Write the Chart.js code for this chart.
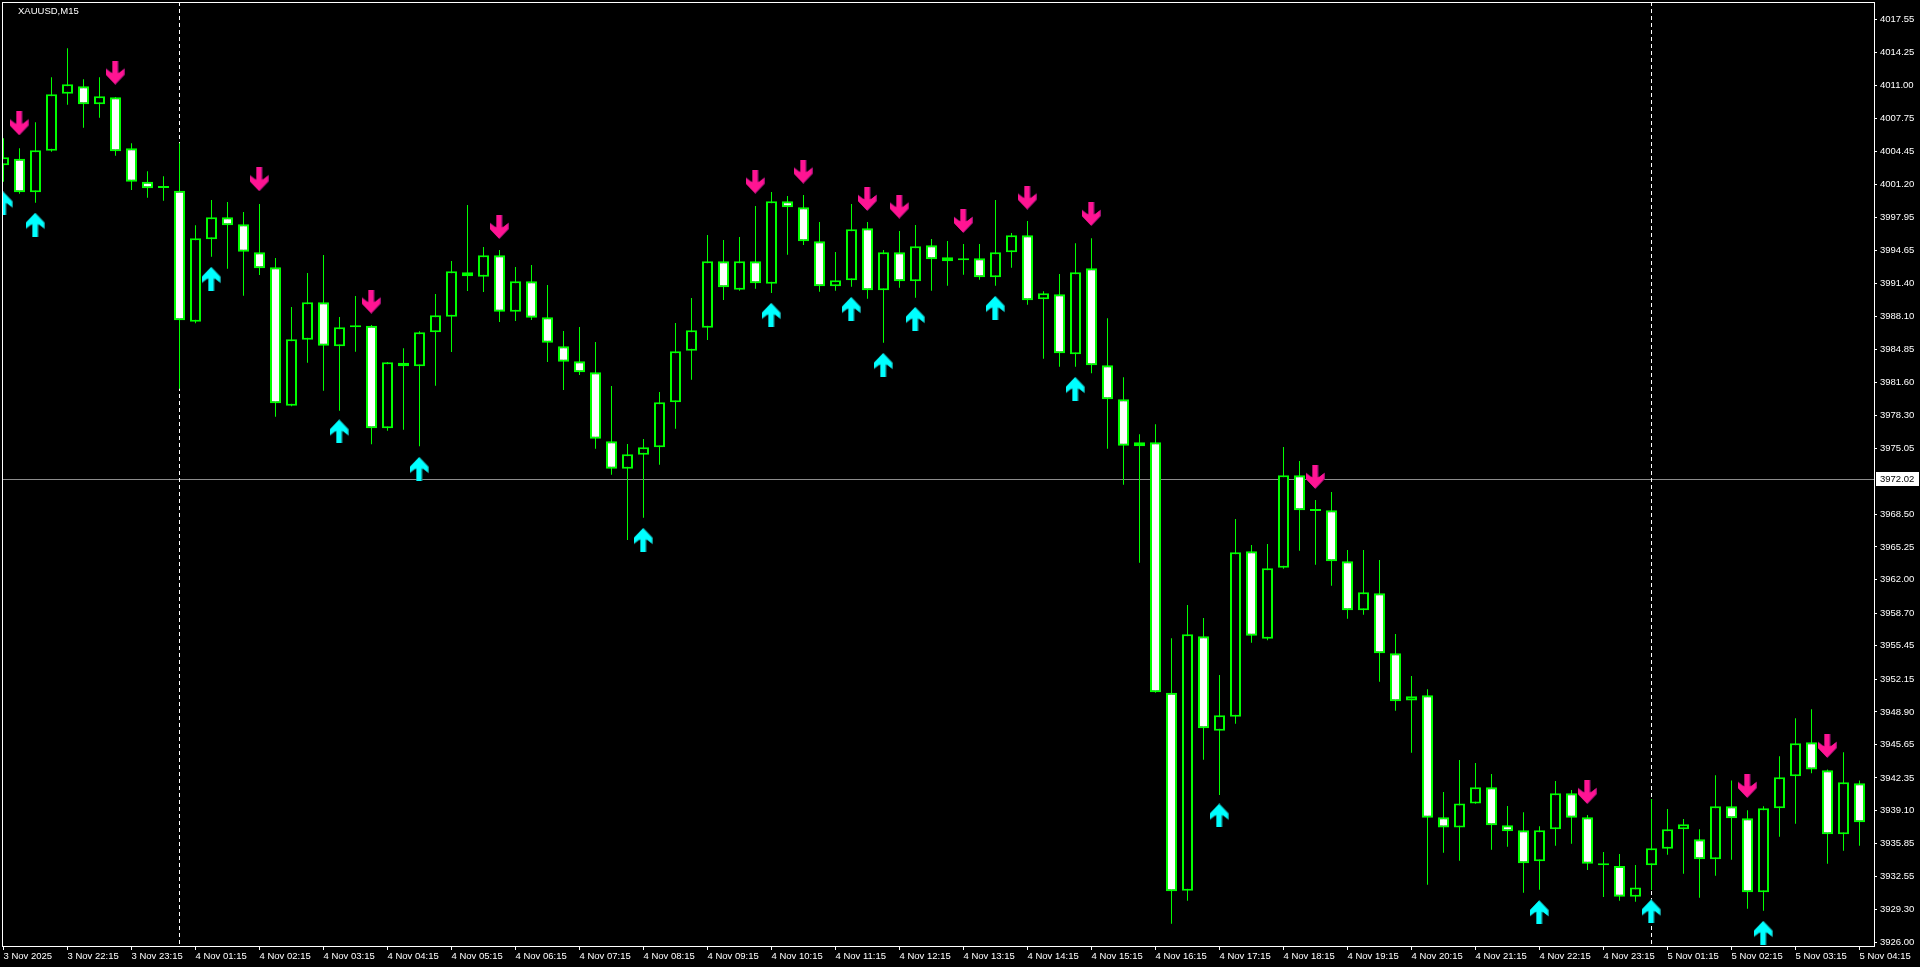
<!DOCTYPE html>
<html>
<head>
<meta charset="utf-8">
<title>XAUUSD,M15</title>
<script src="https://cdn.jsdelivr.net/npm/chart.js@4.4.1/dist/chart.umd.min.js"></script>
<style>
  html, body { margin: 0; padding: 0; background: #000; overflow: hidden; }
  canvas { display: block; }
</style>
</head>
<body>
<canvas id="myChart" width="1920" height="967"></canvas>
<script>
// Data Block (XAUUSD M15, bar 0 = 3 Nov 21:15)
const opens = [
  4003.09, 4003.75, 4000.41, 4004.54, 4010.19, 4010.92, 4009.14, 4009.83, 4004.78, 4001.47,
  4000.84, 4000.57, 3987.58, 3995.75, 3997.93, 3997.24, 3994.46, 3992.98, 3979.26, 3985.80,
  3989.51, 3985.14, 3987.23, 3987.19, 3977.01, 3983.52, 3983.16, 3986.53, 3988.08, 3992.48,
  3992.05, 3994.17, 3988.58, 3991.59, 3988.02, 3985.14, 3983.66, 3982.57, 3975.73, 3973.01,
  3974.39, 3975.13, 3979.59, 3984.71, 3986.99, 3993.57, 3990.76, 3993.57, 3991.35, 3999.52,
  3998.93, 3995.56, 3991.09, 3991.69, 3996.84, 3990.70, 3994.46, 3991.59, 3995.16, 3993.97,
  3993.67, 3993.87, 3991.99, 3994.46, 3996.15, 3989.81, 3990.30, 3984.35, 3992.88, 3983.26,
  3979.89, 3975.23, 3975.63, 3950.80, 3931.17, 3956.39, 3947.03, 3948.42, 3964.82, 3956.15,
  3963.19, 3972.35, 3968.82, 3968.88, 3963.83, 3958.97, 3960.66, 3954.71, 3950.04, 3950.54,
  3938.45, 3937.45, 3939.83, 3941.42, 3937.65, 3937.16, 3934.08, 3937.26, 3940.83, 3938.45,
  3933.89, 3933.62, 3930.58, 3933.69, 3935.34, 3937.26, 3936.27, 3934.28, 3939.54, 3938.35,
  3931.01, 3939.34, 3942.51, 3945.88, 3943.11, 3936.76, 3941.82
];
const highs = [
  4005.77, 4004.78, 4007.35, 4011.81, 4014.69, 4011.62, 4011.81, 4009.85, 4005.27, 4002.50,
  4002.00, 4005.27, 3997.14, 3999.65, 3999.45, 3998.46, 3999.25, 3993.90, 3989.04, 3992.41,
  3994.20, 3988.05, 3990.13, 3987.25, 3983.60, 3984.94, 3986.63, 3990.33, 3993.60, 3999.15,
  3994.99, 3994.69, 3993.01, 3993.21, 3991.22, 3986.66, 3987.06, 3985.57, 3981.21, 3975.46,
  3975.95, 3980.61, 3987.46, 3989.93, 3996.18, 3995.68, 3995.98, 3999.06, 4000.44, 4000.05,
  4000.15, 3997.47, 3994.49, 3999.25, 3997.47, 3994.69, 3996.58, 3997.17, 3995.78, 3995.59,
  3995.29, 3995.29, 3999.65, 3996.38, 3997.57, 3990.60, 3992.31, 3995.36, 3995.85, 3987.92,
  3982.07, 3976.42, 3977.41, 3956.19, 3959.50, 3958.21, 3952.56, 3968.02, 3965.44, 3965.54,
  3975.16, 3973.77, 3969.91, 3970.70, 3964.95, 3964.95, 3963.96, 3956.62, 3952.46, 3951.14,
  3940.95, 3944.13, 3943.83, 3942.74, 3939.57, 3938.94, 3937.55, 3942.05, 3941.15, 3938.67,
  3935.01, 3934.81, 3933.72, 3940.26, 3939.27, 3938.28, 3937.26, 3942.61, 3942.11, 3939.14,
  3939.54, 3944.49, 3948.26, 3949.15, 3943.20, 3944.89, 3942.11
];
const lows = [
  4001.47, 4000.27, 3999.38, 4004.44, 4009.10, 4006.82, 4007.81, 4004.04, 4000.64, 3999.88,
  3999.58, 3980.94, 3987.43, 3994.03, 3992.84, 3990.16, 3992.21, 3978.17, 3979.20, 3983.52,
  3980.74, 3978.76, 3984.61, 3975.43, 3976.78, 3976.88, 3975.23, 3981.24, 3984.58, 3990.63,
  3990.53, 3987.55, 3987.65, 3987.75, 3983.59, 3980.81, 3982.30, 3974.99, 3972.42, 3965.94,
  3968.15, 3973.41, 3976.98, 3981.83, 3985.77, 3989.74, 3990.66, 3990.86, 3990.43, 3994.23,
  3995.19, 3990.56, 3990.66, 3991.06, 3989.87, 3985.50, 3990.96, 3989.96, 3990.66, 3991.15,
  3992.24, 3991.75, 3991.15, 3992.94, 3989.27, 3983.92, 3983.12, 3983.12, 3982.47, 3974.99,
  3971.42, 3963.69, 3950.80, 3927.90, 3930.18, 3944.16, 3940.66, 3947.73, 3955.76, 3956.00,
  3963.10, 3964.88, 3963.49, 3961.41, 3958.14, 3958.53, 3951.89, 3949.01, 3944.85, 3931.76,
  3934.94, 3934.14, 3939.80, 3935.23, 3935.53, 3930.97, 3931.27, 3935.63, 3935.83, 3933.22,
  3930.54, 3930.18, 3930.08, 3931.24, 3934.74, 3932.86, 3930.47, 3932.66, 3934.24, 3929.38,
  3929.19, 3936.52, 3937.81, 3942.81, 3933.85, 3935.13, 3935.63
];
const closes = [
  4003.89, 4000.41, 4004.58, 4010.13, 4011.12, 4009.14, 4009.93, 4004.48, 4001.47, 4000.81,
  4000.84, 3987.72, 3995.85, 3997.93, 3997.14, 3994.52, 3992.88, 3979.49, 3985.84, 3989.51,
  3985.21, 3987.03, 3987.03, 3977.01, 3983.56, 3983.16, 3986.53, 3988.22, 3992.58, 3992.09,
  3994.17, 3988.58, 3991.59, 3987.98, 3985.50, 3983.62, 3982.57, 3975.98, 3973.01, 3974.44,
  3975.13, 3979.59, 3984.65, 3986.73, 3993.57, 3990.99, 3993.57, 3991.39, 3999.52, 3998.93,
  3995.56, 3991.09, 3991.69, 3996.75, 3990.70, 3994.46, 3991.59, 3995.06, 3993.77, 3993.57,
  3993.87, 3991.99, 3994.46, 3996.15, 3989.71, 3990.40, 3984.45, 3992.48, 3983.26, 3979.89,
  3975.29, 3975.63, 3950.84, 3931.11, 3956.59, 3947.27, 3948.56, 3964.72, 3956.45, 3963.13,
  3972.35, 3968.88, 3968.82, 3963.83, 3958.97, 3960.75, 3954.71, 3949.95, 3950.44, 3938.41,
  3937.45, 3939.83, 3941.42, 3937.65, 3937.06, 3933.89, 3937.16, 3940.83, 3938.41, 3933.85,
  3933.69, 3930.58, 3931.50, 3935.37, 3937.26, 3937.75, 3934.28, 3939.54, 3938.35, 3931.01,
  3939.34, 3942.41, 3945.78, 3943.20, 3936.76, 3941.92, 3937.95
];

// time axis: one label every 4 bars
const timeLabels = [
  "3 Nov 2025", "3 Nov 22:15", "3 Nov 23:15", "4 Nov 01:15", "4 Nov 02:15", "4 Nov 03:15",
  "4 Nov 04:15", "4 Nov 05:15", "4 Nov 06:15", "4 Nov 07:15", "4 Nov 08:15", "4 Nov 09:15",
  "4 Nov 10:15", "4 Nov 11:15", "4 Nov 12:15", "4 Nov 13:15", "4 Nov 14:15", "4 Nov 15:15",
  "4 Nov 16:15", "4 Nov 17:15", "4 Nov 18:15", "4 Nov 19:15", "4 Nov 20:15", "4 Nov 21:15",
  "4 Nov 22:15", "4 Nov 23:15", "5 Nov 01:15", "5 Nov 02:15", "5 Nov 03:15", "5 Nov 04:15"
];
const labelStep = 4;

const priceTicks = [
  4017.55, 4014.25, 4011.00, 4007.75, 4004.45, 4001.20, 3997.95, 3994.65, 3991.40, 3988.10,
  3984.85, 3981.60, 3978.30, 3975.05, 3968.50, 3965.25, 3962.00, 3958.70, 3955.45, 3952.15,
  3948.90, 3945.65, 3942.35, 3939.10, 3935.85, 3932.55, 3929.30, 3926.00
];

// indicator arrows (bar index, price at arrow centre)
const buyBars = [0, 2, 13, 21, 26, 40, 48, 53, 55, 57, 62, 67, 76, 96, 103, 110];
const buyPrices = [
  3999.32, 3997.22, 3991.85, 3976.72, 3973.01, 3965.97, 3988.28, 3988.87,
  3983.32, 3987.88, 3988.97, 3980.94, 3938.64, 3929.06, 3929.13, 3927.01
];
const sellBars = [1, 7, 16, 23, 31, 47, 50, 54, 56, 60, 64, 68, 82, 99, 109, 114];
const sellPrices = [
  4007.24, 4012.27, 4001.70, 3989.57, 3996.97, 4001.46, 4002.46, 3999.75,
  3998.99, 3997.57, 3999.88, 3998.26, 3972.19, 3940.95, 3941.55, 3945.52
];

const daySeparators = [11, 103];
const levelPrice = 3972.02;
const symbolTitle = "XAUUSD,M15";

// Build Block
const FONT = "'Liberation Sans', Arial, sans-serif";
const bodyData = opens.map((o, i) => ({ x: i, y: [o, closes[i]] }));
const wickData = lows.map((l, i) => ({ x: i, y: [l, highs[i]] }));
const bodyColors = opens.map((o, i) => (closes[i] < o ? "#ffffff" : "#000000"));
const buyData = buyBars.map((b, i) => ({ x: b, y: buyPrices[i] }));
const sellData = sellBars.map((b, i) => ({ x: b, y: sellPrices[i] }));

function makeArrow(color, shade, up) {
  const c = document.createElement("canvas");
  c.width = 19;
  c.height = 24;
  const g = c.getContext("2d");
  const pts = [[9.5, 0], [19, 10], [19, 16.5], [12.5, 11.5], [12.5, 24], [6.5, 24], [6.5, 11.5], [0, 16.5], [0, 10]];
  const path = (dx) => {
    g.beginPath();
    pts.forEach(([px, py], i) => {
      const yy = up ? py : 24 - py;
      if (i) g.lineTo(px + dx, yy); else g.moveTo(px + dx, yy);
    });
    g.closePath();
  };
  path(0);
  g.fillStyle = shade;
  g.fill();
  g.save();
  g.clip();
  path(-1.2);
  g.fillStyle = color;
  g.fill();
  g.restore();
  return c;
}
const upArrow = makeArrow("#00ffff", "#138c8c", true);
const downArrow = makeArrow("#ff1493", "#9a1070", false);

// Plugin: level line, day separators, frame, price box, title
const chartDecor = {
  id: "chartDecor",
  beforeDatasetsDraw(chart) {
    const { ctx, chartArea: a, scales: { x, y } } = chart;
    ctx.save();
    const ly = Math.round(y.getPixelForValue(levelPrice)) + 0.5;
    ctx.strokeStyle = "#8c8c8c";
    ctx.lineWidth = 1;
    ctx.beginPath();
    ctx.moveTo(a.left, ly);
    ctx.lineTo(a.right, ly);
    ctx.stroke();
    ctx.strokeStyle = "#ffffff";
    ctx.setLineDash([4, 3]);
    daySeparators.forEach((b) => {
      const px = Math.floor(x.getPixelForValue(b)) + 0.5;
      ctx.beginPath();
      ctx.moveTo(px, a.top);
      ctx.lineTo(px, a.bottom);
      ctx.stroke();
    });
    ctx.restore();
  },
  afterDraw(chart) {
    const { ctx, chartArea: a, scales: { y } } = chart;
    ctx.save();
    ctx.strokeStyle = "#ffffff";
    ctx.lineWidth = 1;
    ctx.strokeRect(a.left + 0.5, a.top + 0.5, a.right - a.left, a.bottom - a.top);
    const ly = Math.round(y.getPixelForValue(levelPrice)) + 0.5;
    ctx.fillStyle = "#ffffff";
    ctx.fillRect(a.right + 2, ly - 7.5, 43, 14);
    ctx.fillStyle = "#000000";
    ctx.font = "9.5px " + FONT;
    ctx.textBaseline = "middle";
    ctx.fillText(levelPrice.toFixed(2), a.right + 6, ly);
    ctx.fillStyle = "#ffffff";
    ctx.fillText(symbolTitle, 18, 11);
    ctx.restore();
  }
};

// Config Block
const config = {
  type: "bar",
  data: {
    datasets: [
      {
        label: "Bodies",
        data: bodyData,
        order: 1,
        grouped: false,
        barThickness: 11,
        borderWidth: 2,
        borderColor: "#00ff00",
        borderSkipped: false,
        backgroundColor: bodyColors,
        minBarLength: 2,
        inflateAmount: 0
      },
      {
        label: "Wicks",
        data: wickData,
        order: 2,
        grouped: false,
        barThickness: 1,
        borderWidth: 0,
        backgroundColor: "#00ff00",
        inflateAmount: 0
      },
      {
        type: "scatter",
        label: "Buy",
        data: buyData,
        order: 0,
        pointStyle: upArrow,
        pointRadius: 10
      },
      {
        type: "scatter",
        label: "Sell",
        data: sellData,
        order: 0,
        pointStyle: downArrow,
        pointRadius: 10
      }
    ]
  },
  options: {
    responsive: false,
    animation: false,
    events: [],
    layout: { autoPadding: false, padding: { left: 2, top: 2, right: 0, bottom: 0 } },
    plugins: {
      legend: { display: false },
      tooltip: { enabled: false }
    },
    scales: {
      x: {
        type: "linear",
        offset: false,
        min: -1.5 / 16,
        max: 1870.5 / 16,
        border: { display: false },
        grid: { offset: false, drawOnChartArea: false, tickLength: 4, color: "#ffffff" },
        ticks: {
          autoSkip: false,
          maxRotation: 0,
          minRotation: 0,
          align: "start",
          padding: 1,
          color: "#ffffff",
          font: { family: FONT, size: 9.5 },
          callback: (v, i) => timeLabels[i]
        },
        afterBuildTicks: (s) => {
          s.ticks = timeLabels.map((t, i) => ({ value: i * labelStep }));
        },
        afterFit: (s) => {
          s.height = 21;
          s.paddingLeft = 0;
          s.paddingRight = 0;
        }
      },
      y: {
        type: "linear",
        position: "right",
        min: 3925.69,
        max: 4019.28,
        border: { display: false },
        grid: { drawOnChartArea: false, tickLength: 3, color: "#ffffff" },
        ticks: {
          autoSkip: false,
          padding: 3,
          color: "#ffffff",
          font: { family: FONT, size: 9.5 },
          callback: (v) => v.toFixed(2)
        },
        afterBuildTicks: (s) => {
          s.ticks = priceTicks.map((v) => ({ value: v }));
        },
        afterFit: (s) => {
          s.width = 46;
          s.paddingTop = 0;
          s.paddingBottom = 0;
        }
      }
    }
  },
  plugins: [chartDecor]
};

// Render Block
const myChart = new Chart(document.getElementById("myChart"), config);
</script>
</body>
</html>
